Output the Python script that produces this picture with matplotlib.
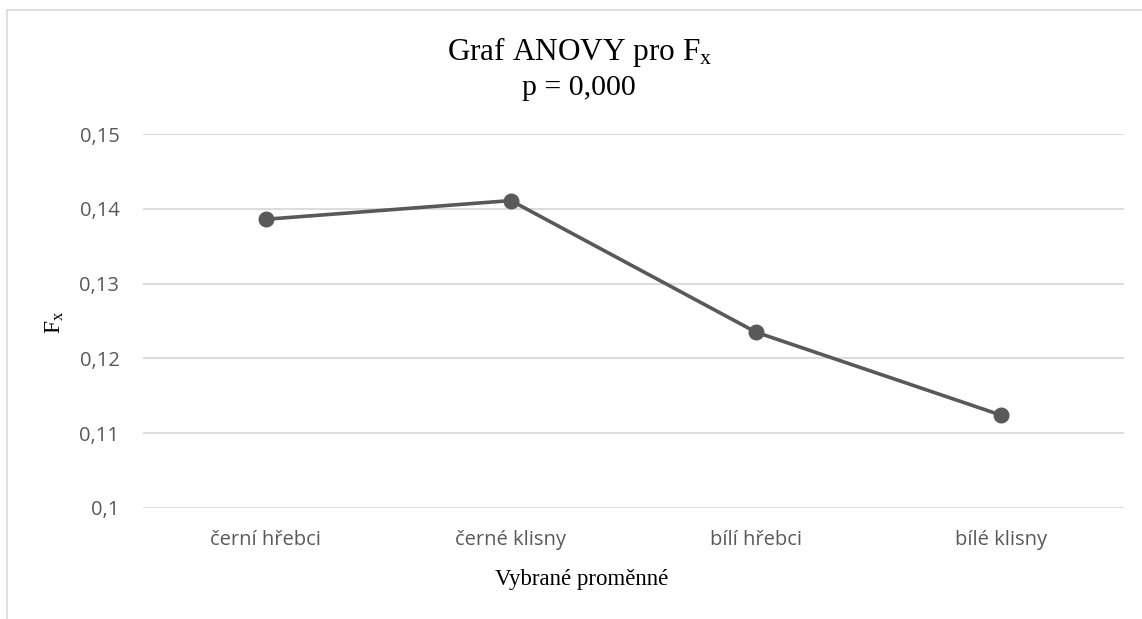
import matplotlib
matplotlib.use('Agg')
import matplotlib.pyplot as plt
from matplotlib.patches import Rectangle

categories = ['černí hřebci', 'černé klisny', 'bílí hřebci', 'bílé klisny']
fx_values = [0.1386, 0.1411, 0.1235, 0.1124]
y_ticks = [0.10, 0.11, 0.12, 0.13, 0.14, 0.15]
y_tick_labels = ['0,1', '0,11', '0,12', '0,13', '0,14', '0,15']

plt.rcParams['mathtext.fontset'] = 'custom'
plt.rcParams['mathtext.rm'] = 'Liberation Serif'

W, H = 1142, 619
fig = plt.figure(figsize=(W / 100, H / 100), dpi=100)
ax = fig.add_axes([143 / W, 1 - 508 / H, (1124 - 143) / W, (508 - 134) / H])

grey = '#595959'
ax.plot(range(len(categories)), fx_values, color=grey, lw=2.6,
        marker='o', markersize=10.5, zorder=3)

ax.set_xlim(-0.5, 3.5)
ax.set_ylim(0.10, 0.15)
ax.set_yticks(y_ticks)
ax.set_yticklabels(y_tick_labels)
ax.set_xticks(range(len(categories)))
ax.set_xticklabels(categories)
ax.grid(axis='y', color='#d9d9d9', lw=1.3)
ax.set_axisbelow(True)
for s in ax.spines.values():
    s.set_visible(False)
ax.tick_params(length=0, colors=grey, labelsize=14.5, pad=17)
ax.tick_params(axis='x', pad=16)
for lab in ax.get_xticklabels() + ax.get_yticklabels():
    lab.set_family('Open Sans')

# titles and axis labels
fig.text(580 / W, 1 - 60 / H, r'Graf ANOVY pro $\mathregular{F_x}$', ha='center',
         va='baseline', family='Liberation Serif', fontsize=22.5)
fig.text(579 / W, 1 - 95 / H, 'p = 0,000', ha='center', va='baseline',
         family='Liberation Serif', fontsize=21.5)
fig.text(582 / W, 1 - 580 / H, 'Vybrané proměnné', ha='center', va='center',
         family='Liberation Serif', fontsize=16.5)
fig.text(55 / W, 1 - 322 / H, r'$\mathregular{F_x}$', ha='center', va='center',
         rotation=90, family='Liberation Serif', fontsize=17)

# chart frame
fig.patches.append(Rectangle((7 / W, -0.1), 1.2, 1 - 10 / H + 0.1,
                             transform=fig.transFigure, fill=False,
                             edgecolor='#d9d9d9', lw=1.2))

fig.savefig('out.png', dpi=100, facecolor='white')
